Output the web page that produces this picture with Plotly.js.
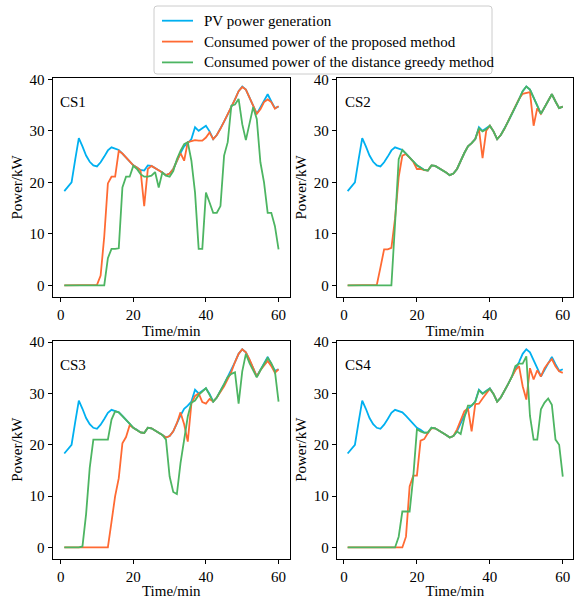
<!DOCTYPE html>
<html>
<head>
<meta charset="utf-8">
<script src="https://cdn.plot.ly/plotly-3.0.1.min.js"></script>
<style>html,body{margin:0;padding:0;background:#fff;}#chart{width:574px;height:599px;}</style>
</head>
<body>
<div id="chart"></div>
<script>
// time in minutes
const time = Array.from({length: 60}, (_, i) => i + 1);

// PV power generation (same for all charging stations)
const pv = [18.3, 19.1, 20.0, 24.4, 28.6, 27.0, 25.2, 24.0, 23.3, 23.1,
            23.9, 25.0, 26.2, 26.8, 26.6, 26.3, 25.6, 24.8, 24.1, 23.3,
            22.9, 22.4, 22.3, 23.3, 23.2, 22.8, 22.4, 21.9, 21.4, 21.7,
            22.6, 24.2, 25.7, 27.0, 27.6, 28.4, 30.7, 30.0, 30.5, 31.0,
            29.9, 28.4, 29.2, 30.4, 31.8, 33.2, 34.5, 36.1, 37.7, 38.6,
            38.0, 36.6, 34.9, 33.3, 34.6, 35.8, 37.1, 35.7, 34.4, 34.7];

// Consumed power of the proposed method
const proposedCS1 = [0, 0, 0, 0.1, 0.1, 0.1, 0.1, 0.1, 0.1, 0.1,
                     1.9, 9.5, 19.8, 21.1, 21.1, 26.1, 25.6, 24.8, 24.1, 23.3,
                     22.9, 22.3, 15.4, 22.6, 23.2, 22.8, 22.4, 21.9, 21.4, 21.7,
                     22.6, 24.2, 25.7, 24.2, 27.8, 28.0, 28.2, 28.1, 28.1, 28.7,
                     29.7, 28.4, 29.2, 30.4, 31.8, 33.2, 34.5, 36.1, 37.7, 38.5,
                     38.0, 36.6, 34.9, 33.3, 34.2, 35.6, 36.1, 35.6, 34.3, 34.8];
const proposedCS2 = [0, 0, 0, 0.1, 0.1, 0.1, 0.1, 0.1, 0.1, 3.5,
                     7.0, 7.0, 7.3, 13.0, 21.0, 25.2, 25.5, 24.8, 24.0, 22.6,
                     22.6, 22.4, 22.3, 23.3, 23.2, 22.8, 22.4, 21.9, 21.4, 21.7,
                     22.6, 24.2, 25.7, 27.0, 27.6, 28.4, 30.4, 24.7, 30.0, 31.0,
                     29.9, 28.4, 29.2, 30.4, 31.8, 33.2, 34.5, 36.2, 37.2, 37.4,
                     37.5, 31.0, 34.4, 33.3, 34.6, 35.8, 37.1, 35.7, 34.4, 34.7];
const proposedCS3 = [0, 0, 0, 0, 0, 0, 0, 0, 0, 0,
                     0, 0, 0, 5.0, 10.0, 13.5, 20.3, 21.5, 23.8, 23.3,
                     22.9, 22.4, 22.3, 23.3, 23.2, 22.8, 22.4, 21.9, 21.4, 21.7,
                     22.6, 24.2, 26.3, 24.0, 20.6, 28.0, 29.5, 30.0, 28.3, 28.0,
                     28.9, 28.4, 29.2, 30.2, 31.4, 32.8, 34.2, 36.1, 37.7, 38.6,
                     38.0, 36.6, 34.9, 33.3, 34.5, 35.5, 36.3, 35.3, 34.0, 34.7];
const proposedCS4 = [0, 0, 0, 0, 0, 0, 0, 0, 0, 0,
                     0, 0, 0, 0, 0, 0, 2.1, 11.9, 14.0, 14.0,
                     20.8, 21.1, 22.3, 23.2, 23.2, 22.8, 22.4, 21.9, 21.4, 21.7,
                     23.0, 24.9, 26.5, 27.1, 22.6, 27.9, 28.0, 29.0, 30.0, 30.9,
                     29.9, 28.4, 29.2, 30.4, 31.8, 33.2, 34.5, 35.3, 31.4, 28.8,
                     34.9, 32.7, 34.5, 33.3, 34.9, 35.9, 36.7, 35.3, 34.3, 34.0];

// Consumed power of the distance greedy method
const greedyCS1 = [0, 0, -0.1, -0.1, 0, 0, 0, 0, 0, 0,
                   0, 0, 5.3, 7.1, 7.1, 7.2, 19.0, 21.1, 21.1, 23.2,
                   22.6, 21.6, 21.1, 21.1, 21.3, 22.0, 19.0, 21.9, 21.3, 21.1,
                   22.2, 24.5, 26.1, 27.4, 27.8, 24.2, 18.0, 7.1, 7.1, 18.0,
                   16.1, 14.1, 14.1, 15.4, 25.2, 27.8, 34.9, 35.1, 36.2, 31.3,
                   28.2, 31.3, 34.6, 32.3, 23.9, 20.0, 14.1, 14.1, 11.5, 7.0];
const greedyCS2 = [0, 0, -0.1, -0.1, 0, 0, 0, 0, 0, 0,
                   0, 0, 0, 12.0, 24.5, 26.3, 25.6, 24.8, 24.1, 23.3,
                   22.9, 22.4, 22.3, 23.3, 23.2, 22.8, 22.4, 21.9, 21.4, 21.7,
                   22.6, 24.2, 25.7, 27.0, 27.6, 28.4, 30.5, 29.9, 30.3, 31.0,
                   29.9, 28.4, 29.2, 30.4, 31.8, 33.2, 34.5, 36.1, 37.7, 38.6,
                   38.0, 36.6, 34.9, 33.3, 34.6, 35.8, 37.1, 35.7, 34.4, 34.7];
const greedyCS3 = [0, 0, -0.1, -0.1, 0, 0.2, 6.5, 15.5, 21.0, 21.0,
                   21.0, 21.0, 21.0, 24.9, 26.5, 26.3, 25.6, 24.8, 24.1, 23.3,
                   22.9, 22.4, 22.3, 23.3, 23.2, 22.8, 22.4, 21.9, 21.0, 13.8,
                   10.8, 10.4, 16.4, 21.0, 25.5, 28.2, 28.6, 29.7, 30.4, 31.0,
                   29.7, 28.4, 29.2, 30.4, 31.8, 33.2, 33.8, 34.1, 28.0, 34.3,
                   37.7, 35.9, 34.6, 33.1, 34.5, 35.7, 36.9, 35.9, 34.3, 28.4];
const greedyCS4 = [0, 0, -0.1, -0.1, 0, 0, 0, 0, 0, 0,
                   0, 0, 0, 0, 2.1, 7.0, 7.0, 7.0, 13.8, 23.0,
                   22.6, 22.3, 22.4, 23.3, 23.2, 22.8, 22.4, 21.9, 21.4, 21.7,
                   22.6, 22.1, 25.2, 27.6, 27.6, 28.4, 30.6, 29.9, 30.4, 30.9,
                   29.9, 28.4, 29.2, 30.4, 31.8, 33.2, 35.3, 35.8, 35.8, 37.2,
                   25.6, 21.0, 21.0, 26.9, 28.2, 29.0, 27.8, 21.0, 20.0, 13.8];

const stationNames = ["CS1", "CS2", "CS3", "CS4"];
const seriesNames = ["PV power generation",
                     "Consumed power of the proposed method",
                     "Consumed power of the distance greedy method"];
const xTicks = [0, 20, 40, 60];
const yTicks = [0, 10, 20, 30, 40];

const proposed = [proposedCS1, proposedCS2, proposedCS3, proposedCS4];
const greedy = [greedyCS1, greedyCS2, greedyCS3, greedyCS4];
const colors = ["#00B0F0", "#FF6A33", "#4DB562"];
const FONT = "Liberation Serif, Times New Roman, serif";
const FS = 15;

const traces = [];
for (let k = 0; k < 4; k++) {
  const xa = k === 0 ? "x" : "x" + (k + 1);
  const ya = k === 0 ? "y" : "y" + (k + 1);
  const sets = [pv, proposed[k], greedy[k]];
  for (let s = 0; s < 3; s++) {
    traces.push({
      x: time, y: sets[s], type: "scatter", mode: "lines",
      name: seriesNames[s], showlegend: false,
      line: {color: colors[s], width: 1.8},
      xaxis: xa, yaxis: ya, hoverinfo: "skip"
    });
  }
}

const W = 574, H = 599;
const colX = [[52.5, 290], [336.7, 573]];
const rowY = [[78.3, 296.5], [341, 558.5]];
const xRanges = [[-2.25, 63.15], [-2.0, 62.8]];
const yRange = [-2.15, 40.2];

const px = v => v / W;          // pixel -> paper x
const py = v => 1 - v / H;      // pixel -> paper y

function axisBase() {
  return {
    showline: true, mirror: true, linecolor: "#000", linewidth: 1,
    ticks: "outside", ticklen: 4, tickwidth: 1, tickcolor: "#000",
    showgrid: false, zeroline: false,
    tickfont: {family: FONT, size: FS, color: "#000"}
  };
}

const layout = {
  width: W, height: H,
  margin: {l: 0, r: 0, t: 0, b: 0},
  paper_bgcolor: "#fff", plot_bgcolor: "#fff",
  font: {family: FONT, size: FS, color: "#000"},
  showlegend: false,
  annotations: [],
  shapes: []
};

for (let k = 0; k < 4; k++) {
  const c = k % 2, r = Math.floor(k / 2);
  const sx = k === 0 ? "" : String(k + 1);
  const xa = Object.assign(axisBase(), {
    domain: [colX[c][0] / W, colX[c][1] / W],
    range: xRanges[c], tickvals: xTicks,
    anchor: "y" + sx,
    title: {text: "Time/min", font: {family: FONT, size: FS, color: "#000"}, standoff: 1}
  });
  const ya = Object.assign(axisBase(), {
    domain: [1 - rowY[r][1] / H, 1 - rowY[r][0] / H],
    range: yRange, tickvals: yTicks,
    anchor: "x" + sx,
    title: {text: "Power/kW", font: {family: FONT, size: FS, color: "#000"}, standoff: 3}
  });
  layout["xaxis" + sx] = xa;
  layout["yaxis" + sx] = ya;
  layout.annotations.push({
    text: stationNames[k], showarrow: false,
    xref: "x" + sx + " domain", yref: "y" + sx + " domain",
    x: 0.025, y: 0.89, xanchor: "left", yanchor: "middle",
    font: {family: FONT, size: FS, color: "#000"}
  });
}

// Legend drawn as a framed box (matplotlib style) with line samples and text
const box = {x0: 154, x1: 492, y0: 6, y1: 74, r: 3};
const rr = box.r;
const boxPath =
  "M " + px(box.x0 + rr) + "," + py(box.y0) +
  " L " + px(box.x1 - rr) + "," + py(box.y0) +
  " Q " + px(box.x1) + "," + py(box.y0) + " " + px(box.x1) + "," + py(box.y0 + rr) +
  " L " + px(box.x1) + "," + py(box.y1 - rr) +
  " Q " + px(box.x1) + "," + py(box.y1) + " " + px(box.x1 - rr) + "," + py(box.y1) +
  " L " + px(box.x0 + rr) + "," + py(box.y1) +
  " Q " + px(box.x0) + "," + py(box.y1) + " " + px(box.x0) + "," + py(box.y1 - rr) +
  " L " + px(box.x0) + "," + py(box.y0 + rr) +
  " Q " + px(box.x0) + "," + py(box.y0) + " " + px(box.x0 + rr) + "," + py(box.y0) + " Z";
layout.shapes.push({
  type: "path", xref: "paper", yref: "paper", path: boxPath,
  fillcolor: "rgba(255,255,255,0.9)", line: {color: "#cccccc", width: 1}, layer: "above"
});
const rowsY = [20.7, 41.6, 62.4];
for (let s = 0; s < 3; s++) {
  layout.shapes.push({
    type: "line", xref: "paper", yref: "paper",
    x0: px(162), x1: px(193), y0: py(rowsY[s]), y1: py(rowsY[s]),
    line: {color: colors[s], width: 1.8}, layer: "above"
  });
  layout.annotations.push({
    text: seriesNames[s], showarrow: false,
    xref: "paper", yref: "paper", x: px(202), y: py(rowsY[s]),
    xanchor: "left", yanchor: "middle",
    font: {family: FONT, size: FS, color: "#000"}
  });
}

Plotly.newPlot("chart", traces, layout, {staticPlot: true, displayModeBar: false});
</script>
</body>
</html>
